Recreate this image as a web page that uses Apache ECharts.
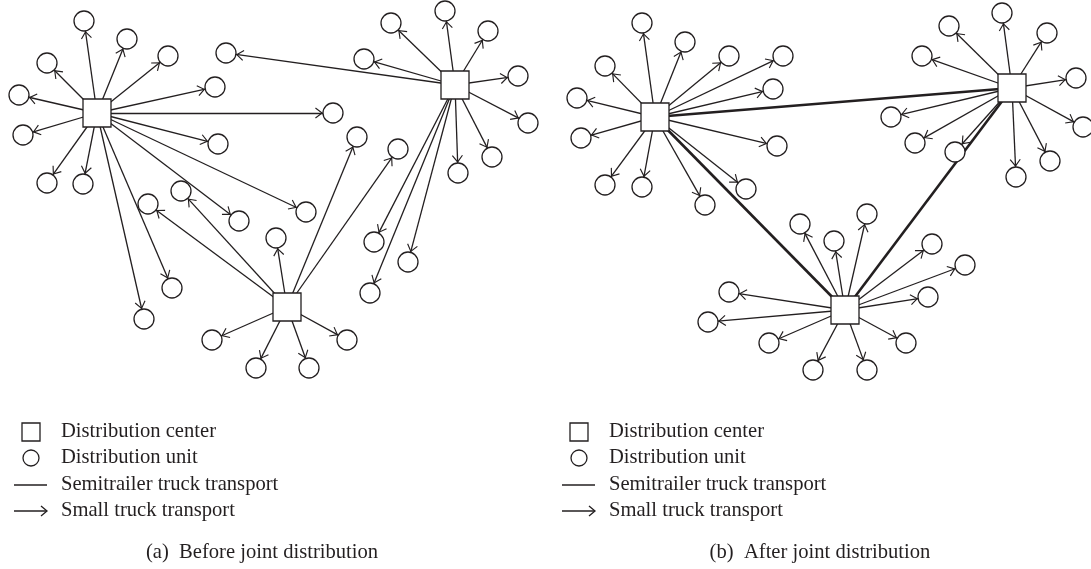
<!DOCTYPE html>
<html>
<head>
<meta charset="utf-8">
<script src="https://cdn.jsdelivr.net/npm/echarts@6/dist/echarts.min.js"></script>
<style>
  html, body { margin: 0; padding: 0; background: #fff; }
  #chart { width: 1091px; height: 569px; }
</style>
</head>
<body>
<div id="chart"></div>
<script>
// panel (a): before joint distribution
const centersA = [[97, 113], [455, 85], [287, 307]];
const unitsA = [
  [84, 21], [127, 39], [168, 56], [47, 63], [19, 95], [23, 135], [215, 87], [333, 113],
  [218, 144], [47, 183], [83, 184], [306, 212], [239, 221], [172, 288], [144, 319],
  [391, 23], [445, 11], [488, 31], [364, 59], [518, 76], [528, 123], [492, 157], [458, 173],
  [226, 53], [374, 242], [408, 262], [370, 293],
  [276, 238], [181, 191], [148, 204], [212, 340], [256, 368], [309, 368], [347, 340], [357, 137], [398, 149]
];
// which center serves each unit (small truck)
const unitCenterA = [
  0, 0, 0, 0, 0, 0, 0, 0, 0, 0, 0, 0, 0, 0, 0,
  1, 1, 1, 1, 1, 1, 1, 1, 1, 1, 1, 1,
  2, 2, 2, 2, 2, 2, 2, 2, 2
];
const semitrailerA = [];

// panel (b): after joint distribution
const centersB = [[655, 117], [1012, 88], [845, 310]];
const unitsB = [
  [642, 23], [685, 42], [729, 56], [783, 56], [605, 66], [773, 89], [577, 98], [581, 138],
  [777, 146], [605, 185], [642, 187], [746, 189], [705, 205],
  [949, 26], [1002, 13], [1047, 33], [922, 56], [1076, 78], [1083, 127], [891, 117],
  [915, 143], [955, 152], [1050, 161], [1016, 177],
  [800, 224], [834, 241], [867, 214], [932, 244], [965, 265], [928, 297], [729, 292],
  [708, 322], [769, 343], [906, 343], [813, 370], [867, 370]
];
const unitCenterB = [
  0, 0, 0, 0, 0, 0, 0, 0, 0, 0, 0, 0, 0,
  1, 1, 1, 1, 1, 1, 1, 1, 1, 1, 1,
  2, 2, 2, 2, 2, 2, 2, 2, 2, 2, 2, 2
];
const semitrailerB = [[0, 1], [0, 2], [1, 2]];

const legendItems = ["Distribution center", "Distribution unit", "Semitrailer truck transport", "Small truck transport"];
const captions = ["(a)  Before joint distribution", "(b)  After joint distribution"];

const ink = "#231f20";
// open arrow head, tip at the centre of a square box so it lands on the circle edge
const arrowHead = "path://M5.5,0L11,7.2L10.1,7.9L5.5,1.9L0.9,7.9L0,7.2Z" +
  "M-2.5,-8L-2.5,-8L-2.5,-8ZM13.5,8L13.5,8L13.5,8Z";
const serif = '20.6px "Liberation Serif", "DejaVu Serif", serif';

function buildGraph(centers, units, unitCenter, semitrailer) {
  const nodes = centers
    .map((p, i) => ({ name: "c" + i, value: p, symbol: "rect", symbolSize: 28 }))
    .concat(units.map((p, i) => ({ name: "u" + i, value: p, symbol: "circle", symbolSize: 20 })));
  const links = unitCenter.map((c, i) => ({
    source: c,
    target: centers.length + i,
  }));
  semitrailer.forEach(([a, b]) => {
    links.push({ source: a, target: b, symbol: ["none", "none"], lineStyle: { width: 2.6 } });
  });
  return {
    type: "graph",
    coordinateSystem: "cartesian2d",
    layout: "none",
    data: nodes,
    links: links,
    itemStyle: { color: "#fff", borderColor: ink, borderWidth: 1.3 },
    lineStyle: { color: ink, opacity: 1, width: 1.3, curveness: 0 },
    edgeSymbol: ["none", arrowHead],
    edgeSymbolSize: 16,
    label: { show: false },
    emphasis: { disabled: true },
    silent: true,
  };
}

// legend + caption for one panel
function panelGraphics(dx, captionX, caption) {
  const rows = [432, 458, 485, 511];
  const ix = 31 + dx;
  const els = [
    { type: "rect", shape: { x: ix - 9, y: rows[0] - 9, width: 18, height: 18 },
      style: { fill: "#fff", stroke: ink, lineWidth: 1.3 } },
    { type: "circle", shape: { cx: ix, cy: rows[1], r: 8 },
      style: { fill: "#fff", stroke: ink, lineWidth: 1.3 } },
    { type: "line", shape: { x1: ix - 17, y1: rows[2], x2: ix + 16, y2: rows[2] },
      style: { stroke: ink, lineWidth: 1.6 } },
    { type: "line", shape: { x1: ix - 17, y1: rows[3], x2: ix + 16, y2: rows[3] },
      style: { stroke: ink, lineWidth: 1.3 } },
    { type: "polyline", shape: { points: [[ix + 10, rows[3] - 5], [ix + 16, rows[3]], [ix + 10, rows[3] + 5]] },
      style: { stroke: ink, lineWidth: 1.3, fill: null } },
  ];
  legendItems.forEach((t, i) => {
    els.push({ type: "text", style: { text: t, x: 61 + dx, y: rows[i], font: serif, fill: ink,
      textAlign: "left", textVerticalAlign: "middle" } });
  });
  els.push({ type: "text", style: { text: caption, x: captionX, y: 553, font: serif, fill: ink,
    textAlign: "center", textVerticalAlign: "middle" } });
  return els;
}

const chart = echarts.init(document.getElementById("chart"));
chart.setOption({
  animation: false,
  backgroundColor: "#fff",
  grid: { left: 0, right: 0, top: 0, bottom: 0 },
  xAxis: { type: "value", min: 0, max: 1091, show: false },
  yAxis: { type: "value", min: 0, max: 569, inverse: true, show: false },
  series: [
    buildGraph(centersA, unitsA, unitCenterA, semitrailerA),
    buildGraph(centersB, unitsB, unitCenterB, semitrailerB),
  ],
  graphic: panelGraphics(0, 262, captions[0]).concat(panelGraphics(548, 820, captions[1])),
});
</script>
</body>
</html>
